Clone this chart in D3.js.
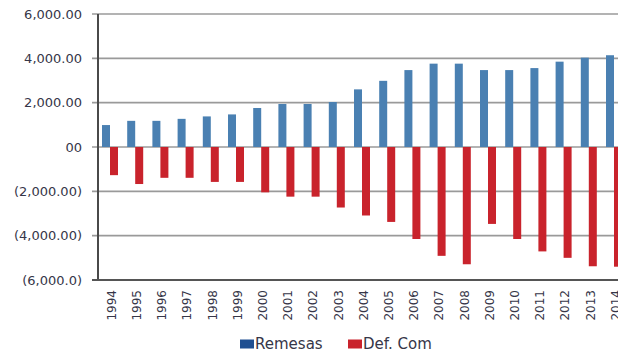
<!DOCTYPE html>
<html>
<head>
<meta charset="utf-8">
<script src="https://cdn.jsdelivr.net/npm/d3@7/dist/d3.min.js"></script>
<style>
  html, body { margin: 0; padding: 0; background: #fff; }
  svg { display: block; overflow: hidden; }
  text { font-family: "DejaVu Sans", sans-serif; fill: #363648; }
</style>
</head>
<body>
<svg id="chart" width="618" height="356"></svg>
<script>
// Remittances vs. trade deficit, 1994–2014 (millions)
const years = ["1994","1995","1996","1997","1998","1999","2000","2001","2002","2003",
               "2004","2005","2006","2007","2008","2009","2010","2011","2012","2013","2014"];
const remesas = [990, 1180, 1180, 1270, 1380, 1470, 1760, 1940, 1940, 2030,
                 2600, 2985, 3470, 3760, 3760, 3470, 3470, 3560, 3850, 4030, 4140];
const defCom = [-1270, -1670, -1390, -1390, -1575, -1575, -2045, -2240, -2240, -2730,
                -3090, -3380, -4150, -4910, -5290, -3470, -4150, -4710, -5000, -5380, -5400];
const yTicks = [6000, 4000, 2000, 0, -2000, -4000, -6000];
const yTickLabels = ["6,000.00", "4,000.00", "2,000.00", "00", "(2,000.00)", "(4,000.00)", "(6,000.0)"];
const seriesNames = ["Remesas", "Def. Com"];
const barColors = ["#4a80b2", "#c9232c"];
const legendColors = ["#1f4f91", "#c9232c"];

const svg = d3.select("#chart");
const axisX = 98, plotTop = 14, plotBottom = 280;
const step = 25.2;

const x = d3.scaleBand().domain(years).range([axisX - 0.6, axisX - 0.6 + step * years.length]).padding(0);
const y = d3.scaleLinear().domain([-6000, 6000]).range([plotBottom, plotTop]);
const barW = 8;

// horizontal gridlines with tick stubs left of the axis
svg.append("g").selectAll("line").data(yTicks.filter(d => d !== -6000)).join("line")
  .attr("x1", axisX - 6).attr("x2", 618)
  .attr("y1", d => y(d)).attr("y2", d => y(d))
  .attr("stroke", "#9a9a9a").attr("stroke-width", 1.6);

// y tick labels
svg.append("g").selectAll("text").data(yTicks).join("text")
  .attr("x", 82).attr("y", d => y(d)).attr("dy", "0.35em")
  .attr("text-anchor", "end").attr("font-size", 13)
  .text((d, i) => yTickLabels[i]);

// bars
const bars = svg.append("g");
bars.selectAll("rect.rem").data(years).join("rect").attr("class", "rem")
  .attr("x", d => x(d) + x.bandwidth() / 2 - barW)
  .attr("width", barW)
  .attr("y", (d, i) => y(remesas[i]))
  .attr("height", (d, i) => y(0) - y(remesas[i]))
  .attr("fill", barColors[0]);
bars.selectAll("rect.def").data(years).join("rect").attr("class", "def")
  .attr("x", d => x(d) + x.bandwidth() / 2)
  .attr("width", barW)
  .attr("y", y(0))
  .attr("height", (d, i) => y(defCom[i]) - y(0))
  .attr("fill", barColors[1]);

// axis lines
svg.append("line").attr("x1", axisX).attr("x2", axisX).attr("y1", plotTop).attr("y2", plotBottom + 1)
  .attr("stroke", "#4a4a4a").attr("stroke-width", 2);
svg.append("line").attr("x1", axisX - 6).attr("x2", 618).attr("y1", plotBottom).attr("y2", plotBottom)
  .attr("stroke", "#555").attr("stroke-width", 2.2);

// rotated year labels
svg.append("g").selectAll("text").data(years).join("text")
  .attr("transform", d => `translate(${x(d) + x.bandwidth() / 2 + 1.5},${290}) rotate(-90)`)
  .attr("text-anchor", "end").attr("dy", "0.35em").attr("font-size", 12)
  .text(d => d);

// legend
const legend = svg.append("g");
const legendX = [240, 348];
seriesNames.forEach((name, i) => {
  legend.append("rect").attr("x", legendX[i]).attr("y", 339.5).attr("width", 14).attr("height", 9)
    .attr("fill", legendColors[i]);
  legend.append("text").attr("x", legendX[i] + 15).attr("y", 343.5).attr("dy", "0.35em")
    .attr("font-size", 15).text(name);
});
</script>
</body>
</html>
